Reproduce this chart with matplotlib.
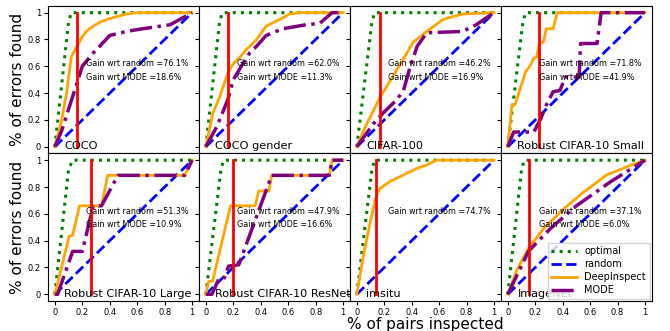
import matplotlib
matplotlib.use('Agg')
import matplotlib.pyplot as plt

# dataset names per panel (row-major)
names = ['COCO', 'COCO gender', 'CIFAR-100', 'Robust CIFAR-10 Small',
         'Robust CIFAR-10 Large', 'Robust CIFAR-10 ResNet', 'imsitu', 'ImageNet']

# gain text (None = not shown)
gain_random = ['76.1%', '62.0%', '46.2%', '71.8%', '51.3%', '47.9%', '74.7%', '37.1%']
gain_mode = ['18.6%', '11.3%', '16.9%', '41.9%', '10.9%', '16.6%', None, '6.0%']

# threshold (red vertical line)
cutoff = [0.162, 0.165, 0.17, 0.229, 0.266, 0.195, 0.14, 0.153]

# optimal curve reaches 1 at
opt_x = [[0, 0.1, 0.12, 1], [0, 0.1, 0.12, 1], [0, 0.11, 0.13, 1], [0, 0.11, 0.13, 1],
         [0, 0.1, 0.13, 1], [0, 0.11, 0.13, 1], [0, 0.11, 0.13, 1], [0, 0.1, 0.12, 1]]
opt_y = [[0, 0.93, 1, 1]] * 8

# DeepInspect curves
di_x = [
    [0, 0.05, 0.085, 0.12, 0.16, 0.2, 0.23, 0.28, 0.33, 0.38, 0.45, 0.52, 0.6, 0.69, 1],
    [0, 0.05, 0.1, 0.16, 0.2, 0.25, 0.29, 0.33, 0.37, 0.44, 0.5, 0.54, 0.61, 0.68, 1],
    [0, 0.06, 0.17, 0.29, 0.41, 0.51, 0.63, 0.77, 1],
    [0, 0.03, 0.055, 0.13, 0.16, 0.19, 0.21, 0.23, 0.26, 0.28, 0.33, 0.36, 1],
    [0, 0.105, 0.13, 0.18, 0.34, 0.385, 0.946, 1],
    [0, 0.02, 0.05, 0.18, 0.36, 0.385, 0.46, 0.48, 0.9, 0.92, 1],
    [0, 0.05, 0.1, 0.14, 0.17, 0.24, 0.34, 0.44, 0.5, 0.58, 1],
    [0, 0.07, 0.15, 0.26, 0.41, 0.55, 0.72, 0.89, 1],
]
di_y = [
    [0, 0.2, 0.4, 0.67, 0.75, 0.82, 0.86, 0.9, 0.93, 0.95, 0.97, 0.99, 1.0, 1.0, 1.0],
    [0, 0.25, 0.37, 0.55, 0.62, 0.67, 0.72, 0.76, 0.8, 0.9, 0.93, 0.95, 0.99, 1, 1],
    [0, 0.146, 0.37, 0.57, 0.78, 0.86, 0.95, 0.99, 1],
    [0, 0.31, 0.32, 0.56, 0.6, 0.66, 0.67, 0.77, 0.78, 0.88, 0.88, 1, 1],
    [0, 0.435, 0.44, 0.66, 0.66, 0.887, 0.887, 1],
    [0, 0.095, 0.1, 0.66, 0.66, 0.77, 0.77, 0.887, 0.887, 1, 1],
    [0, 0.3, 0.55, 0.73, 0.79, 0.84, 0.89, 0.94, 0.96, 1, 1],
    [0, 0.19, 0.34, 0.49, 0.64, 0.76, 0.89, 0.96, 1],
]

# MODE curves (imsitu has none)
mode_x = [
    [0, 0.05, 0.1, 0.16, 0.2, 0.28, 0.3, 0.4, 0.52, 0.64, 0.84, 1],
    [0, 0.08, 0.16, 0.2, 0.27, 0.32, 0.37, 0.44, 0.56, 0.73, 0.83, 0.92, 1],
    [0, 0.12, 0.19, 0.29, 0.34, 0.39, 0.44, 0.51, 0.77, 0.87, 1],
    [0, 0.043, 0.19, 0.24, 0.28, 0.33, 0.38, 0.42, 0.52, 0.53, 0.65, 0.68, 1],
    [0, 0.02, 0.13, 0.2, 0.28, 0.34, 0.46, 0.946, 1],
    [0, 0.044, 0.093, 0.13, 0.166, 0.24, 0.48, 0.9, 0.92, 1],
    None,
    [0, 0.15, 0.31, 0.5, 0.75, 1],
]
mode_y = [
    [0, 0.12, 0.28, 0.47, 0.6, 0.7, 0.72, 0.83, 0.86, 0.88, 0.91, 1],
    [0, 0.15, 0.35, 0.5, 0.62, 0.7, 0.75, 0.83, 0.88, 0.91, 0.92, 1.0, 1.0],
    [0, 0.17, 0.25, 0.35, 0.42, 0.6, 0.75, 0.85, 0.86, 0.91, 1],
    [0, 0.11, 0.11, 0.21, 0.31, 0.41, 0.42, 0.52, 0.52, 0.77, 0.77, 1.0, 1],
    [0, 0, 0.32, 0.32, 0.66, 0.66, 0.887, 0.887, 1],
    [0, 0, 0.11, 0.11, 0.21, 0.22, 0.887, 0.887, 1, 1],
    None,
    [0, 0.32, 0.49, 0.66, 0.84, 1],
]

ticks = [0, 0.2, 0.4, 0.6, 0.8, 1]
tick_labels = ['0', '0.2', '0.4', '0.6', '0.8', '1']

fig, axes = plt.subplots(2, 4, figsize=(6.7, 3.31), dpi=100, sharex=True, sharey=True)
fig.subplots_adjust(left=0.0716, right=0.973, top=0.982, bottom=0.0906, wspace=0, hspace=0)

for i, ax in enumerate(axes.flat):
    ax.plot(opt_x[i], opt_y[i], ':', color='green', lw=2.2, label='optimal')
    ax.plot([0, 1], [0, 1], '--', color='blue', lw=2, label='random')
    ax.plot(di_x[i], di_y[i], '-', color='orange', lw=2, label='DeepInspect')
    if mode_x[i] is not None:
        ax.plot(mode_x[i], mode_y[i], '-.', color='purple', lw=2.5, label='MODE')
    ax.plot([cutoff[i], cutoff[i]], [0, 1], '-', color='red', lw=2)

    ax.text(0.23, 0.62, 'Gain wrt random =' + gain_random[i], fontsize=5.8, va='center')
    if gain_mode[i] is not None:
        ax.text(0.23, 0.52, 'Gain wrt MODE =' + gain_mode[i], fontsize=5.8, va='center')
    ax.text(0.07, -0.02, names[i], fontsize=8.1, va='baseline')

    ax.set_xlim(-0.05, 1.05)
    ax.set_ylim(-0.05, 1.05)
    ax.set_xticks(ticks)
    ax.set_yticks(ticks)
    ax.set_xticklabels(tick_labels)
    ax.set_yticklabels(tick_labels)
    ax.tick_params(labelsize=6, length=3, width=0.8, pad=2)

axes[0, 0].set_ylabel('% of errors found', fontsize=11, labelpad=2)
axes[1, 0].set_ylabel('% of errors found', fontsize=11, labelpad=2)
axes[1, 2].set_xlabel('% of pairs inspected', fontsize=11, labelpad=0)

axes[1, 3].legend(loc='lower right', fontsize=7, handlelength=2.6, borderaxespad=0.2,
                  labelspacing=0.3, fancybox=False, edgecolor='#cccccc')

fig.savefig('out.png', dpi=100)
